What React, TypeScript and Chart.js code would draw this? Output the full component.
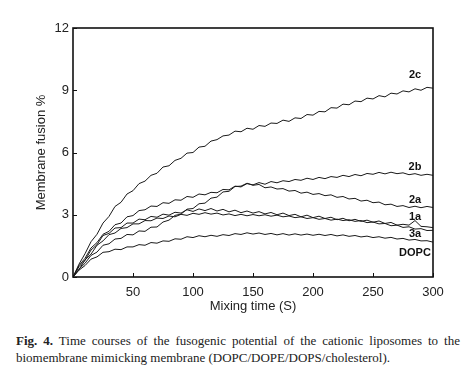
import React, { useEffect, useRef } from 'react';
import { Chart, registerables } from 'chart.js';

Chart.register(...registerables);

// Mixing time (s)
const times = [
  0, 5, 10, 15, 20, 25, 30, 35, 40, 45,
  50, 55, 60, 65, 70, 75, 80, 85, 90, 95,
  100, 105, 110, 115, 120, 125, 130, 135, 140, 145,
  150, 155, 160, 165, 170, 175, 180, 185, 190, 195,
  200, 205, 210, 215, 220, 225, 230, 235, 240, 245,
  250, 255, 260, 265, 270, 275, 280, 285, 290, 295,
  300,
];

const s2c = [
  0, 0.62, 1.12, 1.7, 2.06, 2.6, 2.92, 3.4, 3.6, 4.0,
  4.16, 4.5, 4.62, 4.9, 5.0, 5.3, 5.36, 5.62, 5.72, 5.97,
  6.0, 6.26, 6.3, 6.55, 6.62, 6.8, 6.84, 7.03, 7.0, 7.17,
  7.12, 7.3, 7.26, 7.42, 7.4, 7.56, 7.5, 7.67, 7.64, 7.83,
  7.8, 7.98, 7.96, 8.16, 8.14, 8.33, 8.3, 8.48, 8.45, 8.62,
  8.58, 8.74, 8.68, 8.86, 8.82, 8.97, 8.92, 9.07, 9.0, 9.14,
  9.1,
];

const s2b = [
  0, 0.55, 0.9, 1.4, 1.66, 2.06, 2.2, 2.52, 2.6, 2.9,
  2.96, 3.2, 3.24, 3.42, 3.4, 3.58, 3.55, 3.72, 3.7, 3.88,
  3.84, 4.0, 3.96, 4.08, 4.06, 4.22, 4.2, 4.38, 4.34, 4.5,
  4.44, 4.55, 4.47, 4.6, 4.54, 4.64, 4.6, 4.7, 4.66, 4.76,
  4.7, 4.8, 4.74, 4.84, 4.8, 4.9, 4.84, 4.94, 4.88, 4.99,
  4.95, 5.04, 4.97, 5.05, 4.98, 5.02, 4.93, 4.98, 4.9, 4.95,
  4.9,
];

const s2a = [
  0, 0.38, 0.66, 1.04, 1.2, 1.53, 1.6, 1.83, 1.86, 2.05,
  2.03, 2.22, 2.2, 2.4, 2.41, 2.65, 2.74, 2.97, 3.03, 3.27,
  3.3, 3.53, 3.56, 3.8, 3.85, 4.1, 4.13, 4.36, 4.38, 4.52,
  4.42, 4.46, 4.3, 4.34, 4.24, 4.26, 4.14, 4.17, 4.04, 4.09,
  3.98, 4.02, 3.92, 3.96, 3.84, 3.88, 3.76, 3.79, 3.66, 3.7,
  3.58, 3.61, 3.48, 3.51, 3.4, 3.44, 3.35, 3.41, 3.34, 3.4,
  3.35,
];

const s1a = [
  0, 0.5, 0.8, 1.3, 1.56, 2.0, 2.1, 2.36, 2.38, 2.6,
  2.6, 2.79, 2.76, 2.92, 2.88, 3.03, 2.98, 3.12, 3.08, 3.24,
  3.16, 3.28, 3.2, 3.3, 3.18, 3.26, 3.14, 3.22, 3.1, 3.18,
  3.08, 3.15, 3.04, 3.11, 3.0, 3.08, 2.96, 3.02, 2.9, 2.98,
  2.86, 2.93, 2.82, 2.88, 2.76, 2.83, 2.71, 2.78, 2.68, 2.74,
  2.64, 2.7, 2.58, 2.63, 2.5, 2.54, 2.5, 2.72, 2.44, 2.42,
  2.38,
];

const s3a = [
  0, 0.36, 0.82, 1.1, 1.53, 1.74, 2.04, 2.12, 2.34, 2.38,
  2.56, 2.56, 2.72, 2.71, 2.84, 2.82, 2.94, 2.9, 3.02, 2.97,
  3.07, 3.02, 3.1, 3.03, 3.08, 2.99, 3.04, 2.96, 3.02, 2.95,
  3.01, 2.95, 3.0, 2.93, 2.98, 2.9, 2.94, 2.86, 2.9, 2.82,
  2.86, 2.78, 2.82, 2.74, 2.79, 2.72, 2.76, 2.68, 2.72, 2.62,
  2.65, 2.56, 2.58, 2.47, 2.5, 2.39, 2.42, 2.31, 2.33, 2.24,
  2.25,
];

const sDOPC = [
  0, 0.33, 0.55, 0.86, 0.97, 1.19, 1.22, 1.34, 1.32, 1.45,
  1.45, 1.56, 1.53, 1.66, 1.63, 1.74, 1.72, 1.84, 1.82, 1.94,
  1.9, 1.99, 1.94, 2.01, 1.96, 2.04, 2.0, 2.09, 2.05, 2.13,
  2.07, 2.12, 2.05, 2.1, 2.03, 2.09, 2.02, 2.08, 2.02, 2.07,
  2.01, 2.06, 2.0, 2.05, 1.98, 2.03, 1.96, 2.0, 1.93, 1.97,
  1.9, 1.94, 1.87, 1.91, 1.83, 1.86, 1.78, 1.81, 1.74, 1.75,
  1.68,
];

const seriesNames = ['2c', '2b', '2a', '1a', '3a', 'DOPC'];
const seriesValues = [s2c, s2b, s2a, s1a, s3a, sDOPC];

// curve label anchors (data units)
const labelTimes = [285, 285, 285, 285, 285, 285];
const labelValues = [9.74, 5.28, 3.7, 2.87, 2.08, 1.14];

const yTicks = [0, 3, 6, 9, 12];
const xTicks = [50, 100, 150, 200, 250, 300];

const FONT = '"Liberation Sans", Arial, Helvetica, sans-serif';

const framePlugin = {
  id: 'frame',
  afterDatasetsDraw(chart: any) {
    const { ctx, chartArea: a, scales } = chart;
    const x = scales.x;
    const y = scales.y;
    ctx.save();
    ctx.strokeStyle = '#111';
    ctx.lineWidth = 1.6;
    ctx.strokeRect(a.left, a.top, a.right - a.left, a.bottom - a.top);
    ctx.lineWidth = 1;
    ctx.beginPath();
    xTicks.forEach((v) => {
      const px = Math.round(x.getPixelForValue(v)) + 0.5;
      ctx.moveTo(px, a.bottom);
      ctx.lineTo(px, a.bottom - 4);
    });
    yTicks.forEach((v) => {
      const py = Math.round(y.getPixelForValue(v)) + 0.5;
      ctx.moveTo(a.left, py);
      ctx.lineTo(a.left + 4, py);
    });
    ctx.stroke();
    ctx.font = 'bold 11px ' + FONT;
    ctx.fillStyle = '#111';
    ctx.textAlign = 'center';
    ctx.textBaseline = 'middle';
    seriesNames.forEach((n, i) => {
      ctx.fillText(n, x.getPixelForValue(labelTimes[i]), y.getPixelForValue(labelValues[i]));
    });
    ctx.restore();
  },
};

export default function App() {
  const ref = useRef<HTMLCanvasElement | null>(null);

  useEffect(() => {
    if (!ref.current) return;
    const chart = new Chart(ref.current, {
      type: 'line',
      data: {
        datasets: seriesNames.map((name, i) => ({
          label: name,
          data: seriesValues[i].map((v, j) => ({ x: times[j], y: v })),
          borderColor: '#1a1a1a',
          borderWidth: 1,
          pointRadius: 0,
          tension: 0,
          fill: false,
        })),
      },
      options: {
        animation: false,
        responsive: false,
        maintainAspectRatio: false,
        layout: { padding: { left: 0, right: 37, top: 28, bottom: 1 } },
        plugins: { legend: { display: false }, tooltip: { enabled: false } },
        scales: {
          x: {
            type: 'linear',
            min: 0,
            max: 300,
            grid: { display: false, drawTicks: false },
            border: { display: false },
            afterBuildTicks: (s: any) => {
              s.ticks = xTicks.map((v) => ({ value: v }));
            },
            afterFit: (s: any) => {
              s.height = 37;
            },
            ticks: {
              padding: 8,
              color: '#222',
              font: { family: FONT, size: 13 },
              callback: (v: any) => String(v),
            },
            title: {
              display: true,
              text: 'Mixing time (S)',
              color: '#222',
              font: { family: FONT, size: 13 },
              padding: { top: 0, bottom: 0 },
            },
          },
          y: {
            min: 0,
            max: 12,
            grid: { display: false, drawTicks: false },
            border: { display: false },
            afterBuildTicks: (s: any) => {
              s.ticks = yTicks.map((v) => ({ value: v }));
            },
            afterFit: (s: any) => {
              s.width = 73;
            },
            ticks: {
              padding: 4,
              color: '#222',
              font: { family: FONT, size: 13 },
              callback: (v: any) => String(v),
            },
            title: {
              display: true,
              text: 'Membrane fusion %',
              color: '#222',
              font: { family: FONT, size: 13 },
              padding: { top: 34, bottom: 0 },
            },
          },
        },
      },
      plugins: [framePlugin],
    });
    return () => chart.destroy();
  }, []);

  return (
    <div style={{ position: 'absolute', left: 0, top: 0, width: 470, height: 379, background: '#fff' }}>
      <canvas ref={ref} width={470} height={315} style={{ position: 'absolute', left: 0, top: 0 }} />
      <div
        style={{
          position: 'absolute',
          left: 16,
          top: 332,
          width: 444,
          fontFamily: '"Liberation Serif", "Times New Roman", serif',
          fontSize: 13,
          lineHeight: '17px',
          color: '#222',
        }}
      >
        <div style={{ textAlign: 'justify', textAlignLast: 'justify' as any }}>
          <b>Fig. 4.</b> Time courses of the fusogenic potential of the cationic liposomes to the
        </div>
        <div>biomembrane mimicking membrane (DOPC/DOPE/DOPS/cholesterol).</div>
      </div>
    </div>
  );
}
